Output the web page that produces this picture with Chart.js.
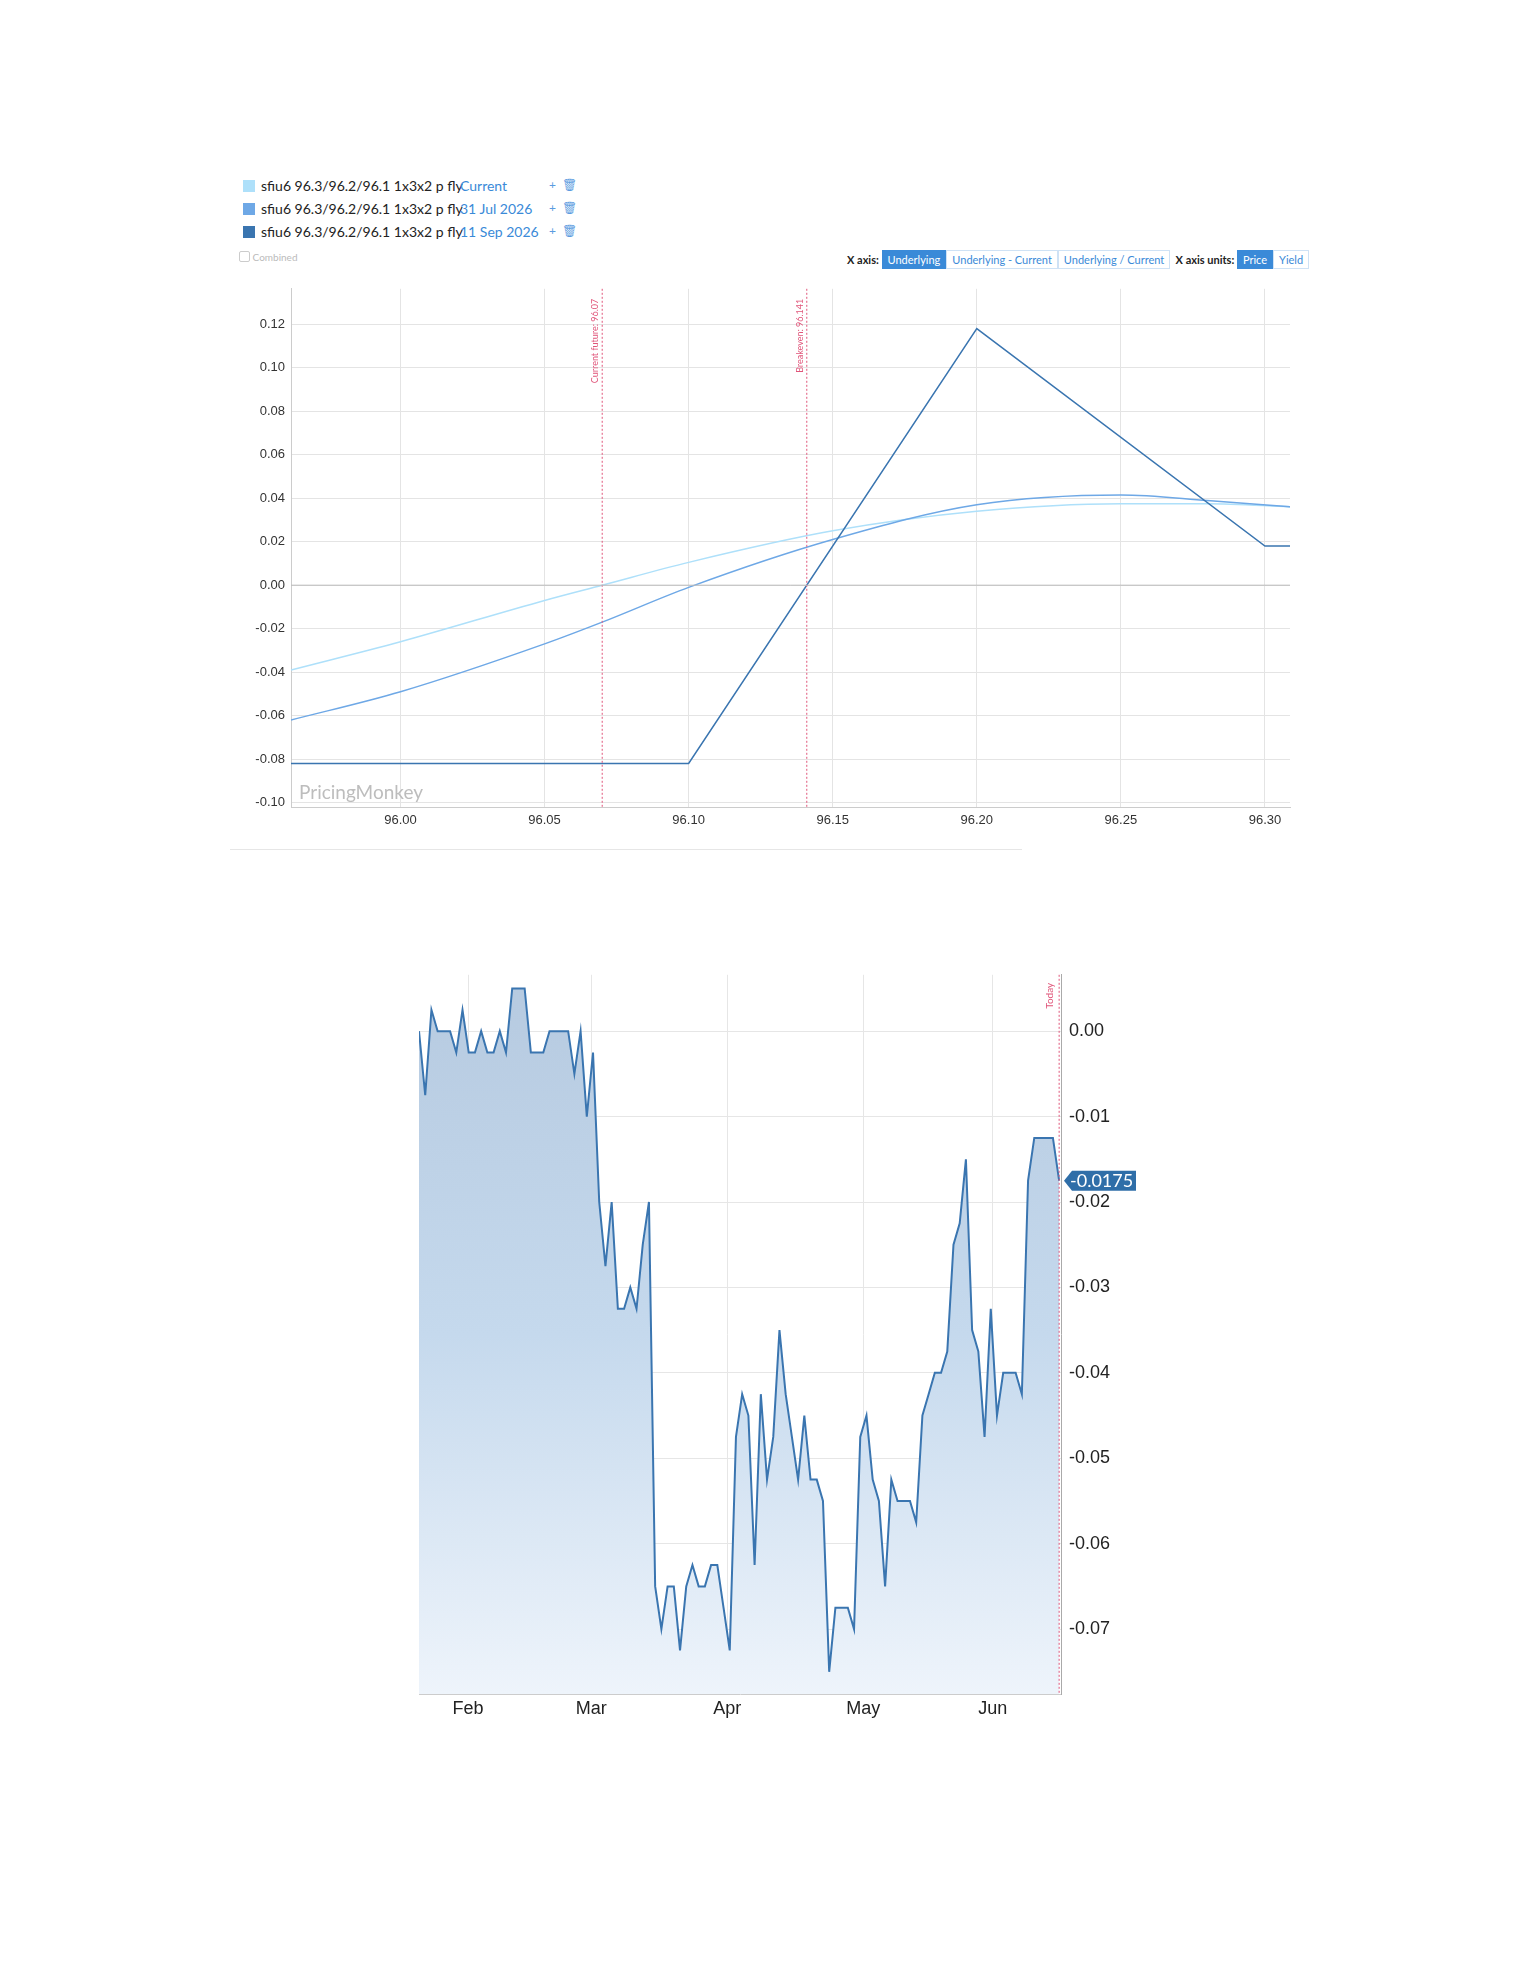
<!DOCTYPE html>
<html><head><meta charset="utf-8">
<script src="https://cdn.jsdelivr.net/npm/chart.js@4"></script>
<style>
body{margin:0;width:1530px;height:1980px;background:#fff;font-family:Lato,"Open Sans",sans-serif;position:relative}
.abs{position:absolute}
.leg{position:absolute;left:243px;font-size:14px;color:#222;white-space:nowrap}
.leg i{display:inline-block;width:12px;height:12px;margin-right:6px;vertical-align:-1px}
.leg span.d{position:absolute;left:217px;color:#3a8ad8}
.leg span.p{position:absolute;left:306px;color:#5a9be0;font-size:12px}
.tb{position:absolute;top:250px;font-size:11px;color:#222;font-weight:bold;display:flex;align-items:center;white-space:nowrap}
.bt{display:inline-block;border:1px solid #cfe2f5;color:#3a8ad8;font-weight:normal;padding:2px 5px}
.on{background:#3a8ad8;color:#fff;border-color:#3a8ad8}
</style></head><body>
<div class="leg" style="top:177px"><i style="background:#aee0fa"></i>sfiu6 96.3/96.2/96.1 1x3x2 p fly<span class="d">Current</span><span class="p">+&nbsp;&nbsp;🗑</span></div>
<div class="leg" style="top:200px"><i style="background:#6ea8e6"></i>sfiu6 96.3/96.2/96.1 1x3x2 p fly<span class="d">31 Jul 2026</span><span class="p">+&nbsp;&nbsp;🗑</span></div>
<div class="leg" style="top:223px"><i style="background:#3a75b0"></i>sfiu6 96.3/96.2/96.1 1x3x2 p fly<span class="d">11 Sep 2026</span><span class="p">+&nbsp;&nbsp;🗑</span></div>
<div class="abs" style="top:251px;left:239px;font-size:10px;color:#bbb"><span style="display:inline-block;width:9px;height:9px;border:1px solid #ccc;border-radius:2px;vertical-align:-1px"></span> Combined</div>
<div class="tb" style="left:847px">X axis:&nbsp;<span class="bt on">Underlying</span><span class="bt">Underlying - Current</span><span class="bt">Underlying / Current</span>&nbsp;&nbsp;X axis units:&nbsp;<span class="bt on">Price</span><span class="bt">Yield</span></div>
<div class="abs" style="left:230px;top:849px;width:792px;height:1px;background:#e6e6e6"></div>
<div class="abs" style="left:230px;top:275px;width:1062px;height:562px"><canvas id="c1"></canvas></div>
<div class="abs" style="left:419px;top:956px;width:720px;height:775px"><canvas id="c2"></canvas></div>
<script>
// ---- chart 1 data ----
const xCurrent=[95.962,96.0,96.05,96.07,96.1,96.15,96.2,96.25,96.28,96.309];
const yCurrent=[-0.039,-0.026,-0.007,0.0,0.0105,0.025,0.034,0.0375,0.0375,0.036];
const xJul=[95.962,96.0,96.05,96.07,96.1,96.15,96.2,96.25,96.28,96.309];
const yJul=[-0.062,-0.049,-0.027,-0.017,-0.001,0.021,0.037,0.0415,0.039,0.036];
const xSep=[95.962,96.10,96.20,96.30,96.309];
const ySep=[-0.082,-0.082,0.118,0.018,0.018];
const markers=[{x:96.07,label:"Current future: 96.07"},{x:96.141,label:"Breakeven: 96.141"}];
// ---- chart 2 data ----
const flyValues=[0,-0.0075,0.0025,0,0,0,-0.0025,0.0025,-0.0025,-0.0025,0,-0.0025,-0.0025,0,-0.0025,0.005,0.005,0.005,-0.0025,-0.0025,-0.0025,0,0,0,0,-0.005,0,-0.01,-0.0025,-0.02,-0.0275,-0.02,-0.0325,-0.0325,-0.03,-0.0325,-0.025,-0.02,-0.065,-0.07,-0.065,-0.065,-0.0725,-0.065,-0.0625,-0.065,-0.065,-0.0625,-0.0625,-0.0675,-0.0725,-0.0475,-0.0425,-0.045,-0.0625,-0.0425,-0.0525,-0.0475,-0.035,-0.0425,-0.0475,-0.0525,-0.045,-0.0525,-0.0525,-0.055,-0.075,-0.0675,-0.0675,-0.0675,-0.07,-0.0475,-0.045,-0.0525,-0.055,-0.065,-0.0525,-0.055,-0.055,-0.055,-0.0575,-0.045,-0.0425,-0.04,-0.04,-0.0375,-0.025,-0.0225,-0.015,-0.035,-0.0375,-0.0475,-0.0325,-0.045,-0.04,-0.04,-0.04,-0.0425,-0.0175,-0.0125,-0.0125,-0.0125,-0.0125,-0.0175];
const monthLabels=["Feb","Mar","Apr","May","Jun"];
const monthIdx=[7.9,27.7,49.6,71.5,92.3];
const lastValue="-0.0175";

const pair=(xs,ys)=>xs.map((x,i)=>({x,y:ys[i]}));
const grid={color:'#e4e4e4',borderDash:[3,3],drawTicks:false};
const vlines={id:'vl',afterDatasetsDraw(c){const {ctx,chartArea:a,scales:{x}}=c;ctx.save();
 markers.forEach(m=>{const px=x.getPixelForValue(m.x);ctx.strokeStyle='#e0557a';ctx.setLineDash([2,2]);ctx.lineWidth=1;
 ctx.beginPath();ctx.moveTo(px,a.top);ctx.lineTo(px,a.bottom);ctx.stroke();
 ctx.setLineDash([]);ctx.translate(px-4,a.top+10);ctx.rotate(-Math.PI/2);ctx.fillStyle='#e0557a';ctx.font='9px Lato';ctx.textAlign='right';ctx.fillText(m.label,0,0);ctx.setTransform(1,0,0,1,0,0);ctx.scale(c.currentDevicePixelRatio,c.currentDevicePixelRatio);});
 const y0=c.scales.y.getPixelForValue(0);ctx.strokeStyle='#bbb';ctx.beginPath();ctx.moveTo(a.left,y0);ctx.lineTo(a.right,y0);ctx.stroke();
 ctx.fillStyle='#bdbdbd';ctx.font='19px Lato';ctx.textAlign='left';ctx.fillText('PricingMonkey',a.left+8,a.bottom-8);ctx.restore();}};
new Chart(document.getElementById('c1'),{type:'line',
 data:{datasets:[
  {data:pair(xSep,ySep),borderColor:'#3a75b0'},
  {data:pair(xJul,yJul),borderColor:'#6ea8e6',cubicInterpolationMode:'monotone'},
  {data:pair(xCurrent,yCurrent),borderColor:'#aee0fa',cubicInterpolationMode:'monotone'}]},
 options:{animation:false,responsive:true,maintainAspectRatio:false,layout:{padding:{right:2}},
  elements:{point:{radius:0},line:{borderWidth:1.5}},
  plugins:{legend:{display:false},tooltip:{enabled:false}},
  scales:{x:{type:'linear',min:95.962,max:96.3087,afterBuildTicks(s){s.ticks=[96,96.05,96.1,96.15,96.2,96.25,96.3].map(v=>({value:v}));},
    ticks:{callback:v=>v.toFixed(2),color:'#333',font:{size:13},padding:6,maxRotation:0},grid,border:{color:'#ccc'},afterFit(s){s.height=30;}},
   y:{min:-0.102,max:0.1363,afterBuildTicks(s){s.ticks=[];for(let v=-0.1;v<0.13;v+=0.02)s.ticks.push({value:+v.toFixed(2)});},
    ticks:{callback:v=>v.toFixed(2),color:'#333',font:{size:13},padding:6},grid,border:{color:'#ccc'},afterFit(s){s.width=61;}}}},
 plugins:[vlines]});

const today={id:'td',afterDatasetsDraw(c){const {ctx,chartArea:a,scales:{x,y}}=c;ctx.save();
 const px=x.getPixelForValue(flyValues.length-1);ctx.strokeStyle='#e0557a';ctx.setLineDash([2,2]);ctx.beginPath();ctx.moveTo(px,a.top);ctx.lineTo(px,a.bottom);ctx.stroke();ctx.setLineDash([]);
 ctx.translate(px-6,a.top+8);ctx.rotate(-Math.PI/2);ctx.fillStyle='#e0557a';ctx.font='10px Lato';ctx.textAlign='right';ctx.fillText('Today',0,0);ctx.restore();
 ctx.save();const py=y.getPixelForValue(flyValues[flyValues.length-1]);const lx=a.right+3;
 ctx.fillStyle='#2f6ea8';ctx.beginPath();ctx.moveTo(lx,py);ctx.lineTo(lx+8,py-10);ctx.lineTo(lx+72,py-10);ctx.lineTo(lx+72,py+10);ctx.lineTo(lx+8,py+10);ctx.closePath();ctx.fill();
 ctx.fillStyle='#fff';ctx.font='18px Lato';ctx.textBaseline='middle';ctx.fillText(lastValue,lx+6,py+1);ctx.restore();}};
new Chart(document.getElementById('c2'),{type:'line',
 data:{datasets:[{data:flyValues.map((v,i)=>({x:i,y:v})),borderColor:'#3a75b0',borderWidth:2,pointRadius:0,tension:0,
  fill:'start',backgroundColor(ctx){const a=ctx.chart.chartArea;if(!a)return 'rgba(0,0,0,0)';const g=ctx.chart.ctx.createLinearGradient(0,a.top,0,a.bottom);g.addColorStop(0,'#b6cae0');g.addColorStop(0.5,'#c5d9ed');g.addColorStop(1,'#eef4fb');return g;}}]},
 options:{animation:false,responsive:true,maintainAspectRatio:false,layout:{padding:{right:0}},
  plugins:{legend:{display:false},tooltip:{enabled:false}},
  scales:{x:{type:'linear',min:0,max:flyValues.length-1+0.3,afterBuildTicks(s){s.ticks=monthIdx.map(v=>({value:v}));},
    ticks:{callback:(v,i)=>monthLabels[i],color:'#222',font:{size:18},padding:4,maxRotation:0},grid:{color:'#e6e6e6',borderDash:[3,3],drawTicks:false},border:{color:'#ccc'},afterFit(s){s.height=37;}},
   y:{position:'right',min:-0.0776,max:0.0066,afterBuildTicks(s){s.ticks=[];for(let v=0;v>=-0.07;v-=0.01)s.ticks.push({value:+v.toFixed(2)});},
    ticks:{callback:v=>v===0?'0.00':v.toFixed(2).replace(/0$/,''),color:'#222',font:{size:18},padding:8},grid:{color:'#e6e6e6',borderDash:[3,3],drawTicks:false},border:{color:'#aaa'},afterFit(s){s.width=78;}}}},
 plugins:[today]});
</script></body></html>
